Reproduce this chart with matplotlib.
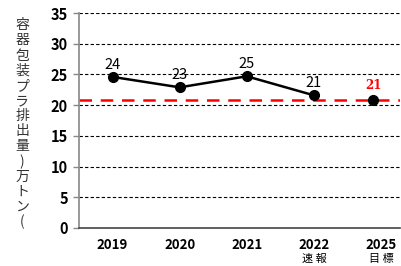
import numpy as np
import matplotlib.pyplot as plt

plt.rcParams['font.family'] = ['Noto Sans CJK JP', 'DejaVu Sans']

# データ
years = ['2019', '2020', '2021', '2022', '2025']
sublabels = ['', '', '', '速 報', '目 標']
xpos = [0, 1, 2, 3, 3.88]
values = [24.6, 22.9, 24.7, 21.6, 20.8]
labels = ['24', '23', '25', '21', '21']
target = 20.8
ylabel = '容器包装プラ排出量)万トン('

fig = plt.figure(figsize=(4.01, 2.66), dpi=100)
ax = fig.add_axes([0.197, 0.143, 0.8, 0.808])

for y in range(5, 40, 5):
    ax.axhline(y, color='black', lw=0.8, ls=(0, (3, 2)), zorder=1)

ax.axhline(target, color='#ff0000', lw=1.8, ls=(0, (5, 3.5)), zorder=2)

# 実績（2019-2022）を線で結ぶ
ax.plot(xpos[:4], values[:4], color='black', lw=1.8, marker='o', ms=7, zorder=3)
ax.plot(xpos[4], values[4], color='black', marker='o', ms=7, zorder=3)

for i in range(4):
    ax.text(xpos[i], values[i] + 0.8, labels[i], ha='center', va='bottom', fontsize=10.5)
ax.text(xpos[4], values[4] + 1.3, labels[4], ha='center', va='bottom', fontsize=8.5,
        color='#ff0000', fontweight='bold', family=['DejaVu Serif'])

ax.set_ylim(0, 35)
ax.set_xlim(-0.5, 4.28)
ax.set_yticks(range(0, 40, 5))
ax.set_xticks(range(5))
ax.set_xticklabels(years, fontsize=9.5, fontweight='bold')
for i, s in enumerate(sublabels):
    if s:
        ax.text(i, -0.12, s, transform=ax.get_xaxis_transform(), ha='center', va='top',
                fontsize=8)
ax.tick_params(axis='y', labelsize=10.5, length=4, color='#888888', width=1, pad=4)
ax.tick_params(axis='x', length=0, pad=7)
for t in ax.get_yticklabels():
    t.set_fontweight('bold')

ax.spines['top'].set_visible(False)
ax.spines['right'].set_visible(False)
ax.spines['left'].set_color('#888888')
ax.spines['left'].set_linewidth(1.2)
ax.spines['bottom'].set_color('#444444')
ax.spines['bottom'].set_linewidth(1.2)

# 縦書きの軸ラベル
top, bottom = 0.905, 0.165
step = (top - bottom) / (len(ylabel) - 1)
for k, ch in enumerate(ylabel):
    fig.text(0.055, top - k * step, ch, ha='center', va='center', fontsize=10,
             color='#333333')

fig.savefig('out.png', dpi=100)
